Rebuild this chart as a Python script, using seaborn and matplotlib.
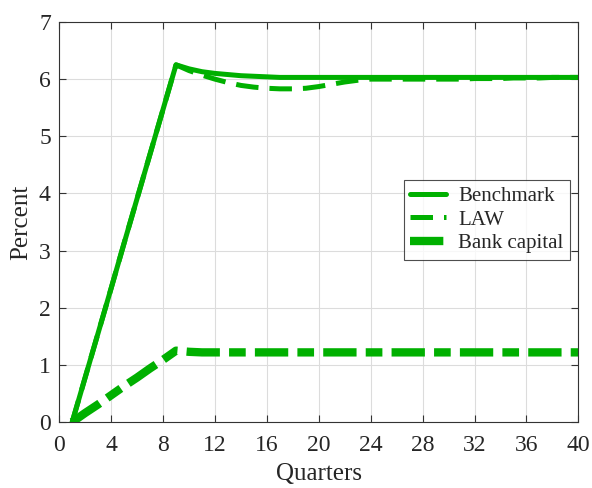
import numpy as np
import pandas as pd
import matplotlib
matplotlib.use("Agg")
import matplotlib.pyplot as plt
import seaborn as sns

# =====================================
# Data
# =====================================

quarters = list(range(1, 41))

benchmark = [0.0, 0.78, 1.56, 2.34, 3.13, 3.91, 4.69, 5.47, 6.25,
             6.18, 6.13, 6.10, 6.08, 6.06, 6.05, 6.04, 6.03, 6.03,
             6.03, 6.03, 6.03, 6.03, 6.03, 6.03, 6.03, 6.03, 6.03,
             6.03, 6.03, 6.03, 6.03, 6.03, 6.03, 6.03, 6.03, 6.03,
             6.03, 6.03, 6.03, 6.03]

law = [0.0, 0.78, 1.56, 2.34, 3.13, 3.91, 4.69, 5.47, 6.25,
       6.15, 6.07, 6.00, 5.94, 5.89, 5.86, 5.84, 5.83, 5.83,
       5.84, 5.87, 5.91, 5.95, 5.98, 6.00, 6.00, 6.00, 6.00,
       6.00, 6.00, 6.00, 6.00, 6.01, 6.01, 6.01, 6.02, 6.02,
       6.02, 6.03, 6.03, 6.03]

bank_capital = [0.0, 0.16, 0.31, 0.47, 0.63, 0.78, 0.94, 1.09, 1.25,
                1.23, 1.22, 1.22, 1.22, 1.22, 1.22, 1.22, 1.22, 1.22,
                1.22, 1.22, 1.22, 1.22, 1.22, 1.22, 1.22, 1.22, 1.22,
                1.22, 1.22, 1.22, 1.22, 1.22, 1.22, 1.22, 1.22, 1.22,
                1.22, 1.22, 1.22, 1.22]

df = pd.DataFrame({
    "Quarters": quarters,
    "Benchmark": benchmark,
    "LAW": law,
    "Bank capital": bank_capital,
})

# =====================================
# Style
# =====================================

sns.set_style("ticks")
plt.rcParams["font.family"] = ["Liberation Serif", "DejaVu Serif"]
plt.rcParams["xtick.direction"] = "in"
plt.rcParams["ytick.direction"] = "in"

green = "#00b000"

fig, ax = plt.subplots(figsize=(5.92, 4.88), dpi=100)

sns.lineplot(data=df, x="Quarters", y="Benchmark", ax=ax, color=green,
             linewidth=3.6, label="Benchmark")
sns.lineplot(data=df, x="Quarters", y="LAW", ax=ax, color=green,
             linewidth=3.6, linestyle=(0, (4.5, 2.2)), label="LAW")
sns.lineplot(data=df, x="Quarters", y="Bank capital", ax=ax, color=green,
             linewidth=6, linestyle=(0, (4, 1.1, 2, 1.1)), label="Bank capital")

ax.set_xlim(0, 40)
ax.set_ylim(0, 7)
ax.set_xticks(range(0, 41, 4))
ax.set_yticks(range(0, 8))
ax.grid(True, color="#dcdcdc", linewidth=0.8)
ax.tick_params(labelsize=17, top=True, right=True, length=5, width=0.8,
               color="#333333")
ax.tick_params(axis="x", pad=9)
ax.tick_params(axis="y", pad=6)
for s in ax.spines.values():
    s.set_color("#333333")
    s.set_linewidth(0.8)

ax.set_xlabel("Quarters", fontsize=18, labelpad=5)
ax.set_ylabel("Percent", fontsize=18, labelpad=5)

leg = ax.legend(loc="upper left", bbox_to_anchor=(0.664, 0.605), fontsize=15,
                frameon=True, fancybox=False, edgecolor="#222222",
                handlelength=1.7, borderpad=0.3, labelspacing=0.2,
                handletextpad=0.6, borderaxespad=0)
leg.get_frame().set_linewidth(0.8)

fig.subplots_adjust(left=0.1, right=0.977, top=0.955, bottom=0.135)
fig.savefig("out.png", dpi=100)
